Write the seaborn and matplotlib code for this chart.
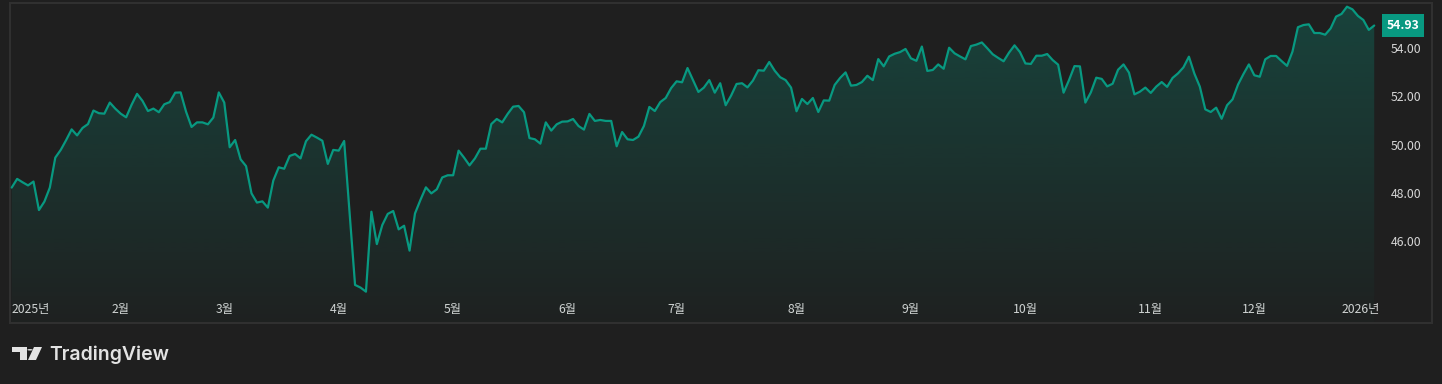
import numpy as np
import pandas as pd
import matplotlib.pyplot as plt
import seaborn as sns
from matplotlib.colors import to_rgb
from matplotlib.patches import Polygon, Circle

# daily closes (one value per trading bar)
values_q1 = [48.22, 48.58, 48.44, 48.31, 48.47, 47.29, 47.64, 48.22, 49.46, 49.78,
             50.19, 50.63, 50.38, 50.69, 50.85, 51.41, 51.30, 51.28, 51.74, 51.49,
             51.28, 51.13, 51.65, 52.10, 51.81, 51.39, 51.49, 51.34, 51.67, 51.76,
             52.15, 52.16, 51.36, 50.73, 50.92, 50.92, 50.84, 51.12, 52.16, 51.74,
             49.89, 50.19, 49.39, 49.11, 47.98, 47.60, 47.65, 47.39, 48.51, 49.06,
             49.00, 49.53, 49.61, 49.43, 50.14, 50.41, 50.29, 50.16, 49.20, 49.78]
values_q2 = [49.75, 50.15, 47.17, 44.19, 44.08, 43.91, 47.22, 45.88, 46.67, 47.13,
             47.25, 46.49, 46.64, 45.61, 47.15, 47.71, 48.23, 47.98, 48.15, 48.64,
             48.73, 48.73, 49.75, 49.46, 49.14, 49.43, 49.83, 49.83, 50.85, 51.06,
             50.92, 51.27, 51.57, 51.60, 51.34, 50.27, 50.22, 50.04, 50.92, 50.58,
             50.84, 50.95, 50.96, 51.06, 50.77, 50.62, 51.27, 50.98, 51.02, 50.98,
             50.98, 49.93, 50.52, 50.22, 50.19, 50.33, 50.77, 51.56, 51.39, 51.76,
             51.93, 52.34]
values_q3 = [52.62, 52.58, 53.17, 52.68, 52.18, 52.36, 52.67, 52.15, 52.54, 51.63,
             52.03, 52.51, 52.54, 52.37, 52.65, 53.08, 53.06, 53.42, 53.06, 52.79,
             52.67, 52.36, 51.38, 51.89, 51.68, 51.93, 51.35, 51.83, 51.82, 52.47,
             52.76, 52.99, 52.44, 52.47, 52.59, 52.85, 52.67, 53.54, 53.24, 53.65,
             53.76, 53.83, 53.96, 53.57, 53.47, 54.06, 53.05, 53.09, 53.32, 53.14,
             54.01, 53.78, 53.65, 53.53, 54.08, 54.14, 54.23, 53.99, 53.74, 53.59,
             53.45, 53.81, 54.11, 53.83]
values_q4 = [53.36, 53.34, 53.68, 53.68, 53.75, 53.50, 53.31, 52.15, 52.67, 53.25,
             53.24, 51.74, 52.16, 52.77, 52.72, 52.41, 52.52, 53.10, 53.32, 52.98,
             52.08, 52.19, 52.36, 52.14, 52.40, 52.59, 52.39, 52.76, 52.95, 53.20,
             53.64, 52.94, 52.40, 51.46, 51.35, 51.53, 51.07, 51.63, 51.87, 52.48,
             52.92, 53.32, 52.87, 52.81, 53.53, 53.67, 53.67, 53.46, 53.26, 53.85,
             54.86, 54.95, 54.98, 54.62, 54.62, 54.55, 54.81, 55.30, 55.41, 55.71,
             55.60, 55.33, 55.16, 54.75, 54.93]

month_labels = ['2025년', '2월', '3월', '4월', '5월', '6월', '7월',
                '8월', '9월', '10월', '11월', '12월', '2026년']
month_bars = [0, 20, 39, 60, 81, 102, 122, 144, 165, 186, 209, 228, 247.6]
price_ticks = [46, 48, 50, 52, 54]
last_price = 54.93

df = pd.DataFrame({'value': values_q1 + values_q2 + values_q3 + values_q4})
df['bar'] = np.arange(len(df))

BG = '#1f1f1f'
TEAL = '#089981'
TXT = '#d6d6d6'
W, H = 1442, 384

sns.set_theme(style='dark')
plt.rcParams['font.family'] = ['Noto Sans CJK KR', 'DejaVu Sans']

fig = plt.figure(figsize=(W / 100, H / 100), dpi=100, facecolor=BG)
ax = fig.add_axes([10 / W, 61 / H, 1422 / W, 320 / H])
ax.set_facecolor(BG)

xmin, xmax = -0.31, 260.6
ymin, ymax = 42.613, 55.863

# gradient area under the line
fill = ax.fill_between(df['bar'], df['value'], ymin, color='none', lw=0)
grad = np.zeros((256, 1, 4))
grad[..., :3] = to_rgb(TEAL)
grad[..., 3] = np.linspace(0.30, 0.02, 256)[:, None]
img = ax.imshow(grad, aspect='auto', extent=[xmin, xmax, ymin, ymax],
                origin='upper', zorder=1)
img.set_clip_path(fill.get_paths()[0], transform=ax.transData)

sns.lineplot(data=df, x='bar', y='value', color=TEAL, lw=1.6, ax=ax, zorder=3)

ax.set_xlim(xmin, xmax)
ax.set_ylim(ymin, ymax)
ax.set_xlabel('')
ax.set_ylabel('')
ax.grid(False)

# time axis labels inside the pane
ax.set_xticks(month_bars)
ax.set_xticklabels(month_labels, fontweight='medium')
ax.tick_params(axis='x', length=0, pad=-14.5, labelsize=8.8, labelcolor=TXT)
ax.get_xticklabels()[0].set_horizontalalignment('left')

# price scale labels inside the pane, right side
ax.yaxis.tick_right()
ax.set_yticks(price_ticks)
ax.set_yticklabels([f'{p:.2f}' for p in price_ticks])
ax.tick_params(axis='y', length=0, pad=-29.5, labelsize=8.8, labelcolor=TXT)

for s in ax.spines.values():
    s.set_color('#303030')
    s.set_linewidth(1.5)

# last price tag
ax.text((1403 - 10) / 1422, last_price, f'{last_price:.2f}',
        transform=ax.get_yaxis_transform(), ha='center', va='center',
        fontsize=8.8, fontweight='bold', color='white', zorder=5,
        bbox=dict(boxstyle='square,pad=0.4', fc=TEAL, ec='none'))

# TradingView logo
def px(x, y):
    return (x / W, 1 - y / H)

logo_c = '#e3e3e3'
fig.patches.append(Polygon([px(12, 347), px(27, 347), px(27, 360), px(20, 360),
                            px(20, 352), px(12, 352)], closed=True,
                           transform=fig.transFigure, fc=logo_c, ec='none'))
fig.patches.append(Circle(px(30, 349.8), 2.7 / W, transform=fig.transFigure,
                          fc=logo_c, ec='none'))
fig.patches.append(Polygon([px(34, 347), px(42, 347), px(36, 360), px(28, 360)],
                           closed=True, transform=fig.transFigure, fc=logo_c, ec='none'))
fig.text(*px(49, 360), 'TradingView', fontsize=14, fontweight='semibold',
         family='Inter', color=logo_c, va='baseline', ha='left')

fig.savefig('out.png', dpi=100, facecolor=BG)
